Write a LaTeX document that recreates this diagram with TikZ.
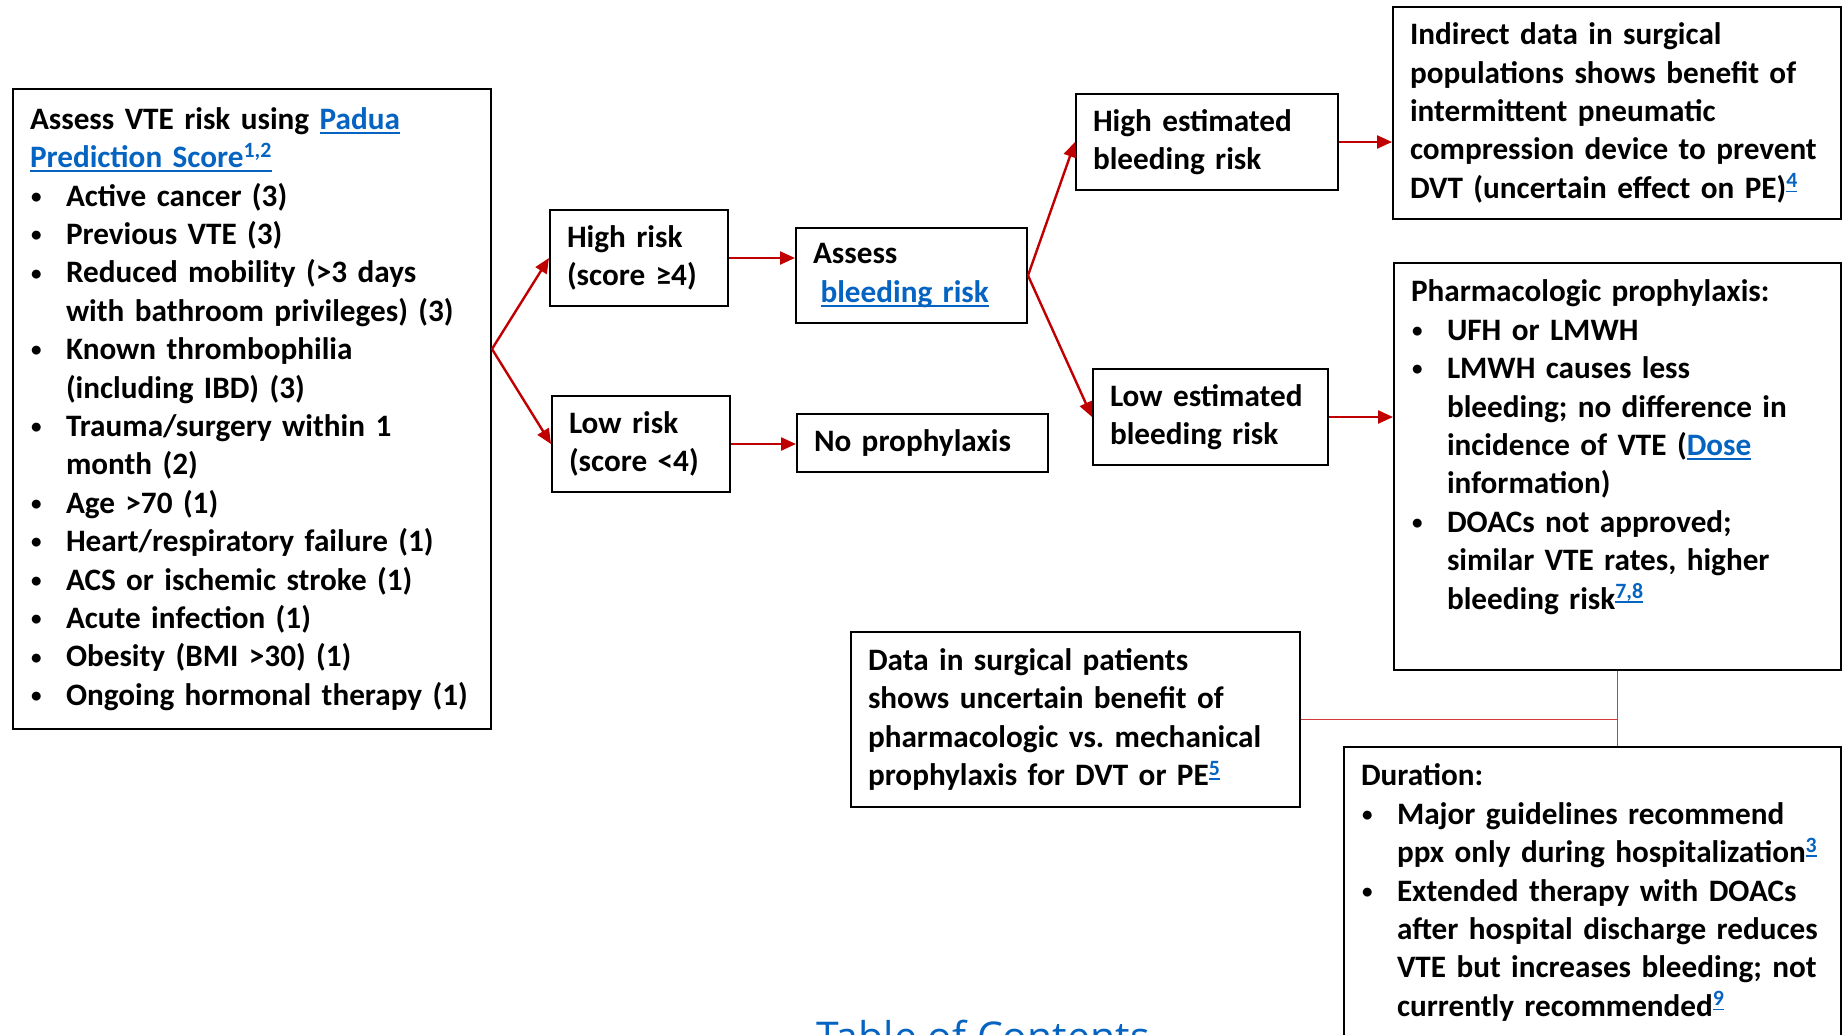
\documentclass[tikz,border=0pt]{standalone}
\usepackage{fontspec}
\setmainfont{Carlito}
\newfontfamily\tocfont{Open Sans}
\usetikzlibrary{%
  arrows.meta,%
  calc%
}
\frenchspacing
\definecolor{arrowred}{RGB}{192,0,0}
\definecolor{thinred}{RGB}{210,60,60}
\definecolor{linkblue}{RGB}{5,99,193}
\newcommand{\lnk}[1]{\leavevmode{\color{linkblue}\setbox0\hbox{#1}\rlap{\rule[-2.2pt]{\wd0}{0.9pt}}\box0}}
\newcommand{\refsup}[1]{\textsuperscript{\lnk{#1}}}
\newcommand{\bul}{\makebox[18pt][l]{\hspace{0.6pt}\raisebox{1.4pt}{\fontsize{10.5}{10.5}\selectfont\textbullet}}}
\newcommand{\ind}{\leavevmode\hspace*{18pt}}

\begin{document}
\begin{tikzpicture}[
  x=0.5pt, y=-0.5pt,
  font=\fontsize{15.6}{19.2}\selectfont\bfseries,
  >={Triangle[length=7.5pt,width=6.5pt]},
  line width=1pt,
  box/.style={rectangle, draw=black, line width=1pt, anchor=north west, align=left, inner xsep=8.5pt, inner ysep=6pt,
    execute at begin node={\rightskip=0pt plus 1fil minus 100pt\relax}},
  topbox/.style={box, inner ysep=8.5pt},
  flow/.style={->, draw=arrowred, line width=1.2pt},
  thinlink/.style={draw=thinred, line width=0.6pt},
  toc/.style={anchor=base, text=linkblue, font=\tocfont\fontsize{20.5}{24}\selectfont}
]
\useasboundingbox (0,0) rectangle (1842,1034);

\node[box, text width=222pt, minimum height=320pt] (padua) at (12,88) {%
Assess VTE risk using \lnk{Padua}\\
\lnk{Prediction Score\textsuperscript{1,2}}\\
\bul Active cancer (3)\\
\bul Previous VTE (3)\\
\bul Reduced mobility (>3 days\\
\ind with bathroom privileges) (3)\\
\bul Known thrombophilia\\
\ind (including IBD) (3)\\
\bul Trauma/surgery within 1\\
\ind month (2)\\
\bul Age >70 (1)\\
\bul Heart/respiratory failure (1)\\
\bul ACS or ischemic stroke (1)\\
\bul Acute infection (1)\\
\bul Obesity (BMI >30) (1)\\
\bul Ongoing hormonal therapy (1)};

\node[box, text width=72pt, minimum height=48pt] (highrisk) at (549,209) {High risk\\(score ≥4)};
\node[box, text width=72pt, minimum height=48pt] (lowrisk) at (551,395) {Low risk\\(score <4)};
\node[box, text width=98.5pt, minimum height=47.5pt] (assess) at (795,227) {Assess\\\hspace*{3.75pt}\lnk{bleeding risk}};
\node[box, text width=108.5pt, minimum height=29pt] (noppx) at (796,413) {No prophylaxis};
\node[box, text width=114pt, minimum height=48pt] (highbleed) at (1075,93) {High estimated\\bleeding risk};
\node[box, text width=100.5pt, minimum height=48pt] (lowbleed) at (1092,368) {Low estimated\\bleeding risk};

\node[box, text width=207pt, minimum height=106pt] (indirect) at (1392,6) {%
Indirect data in surgical\\
populations shows benefit of\\
intermittent pneumatic\\
compression device to prevent\\
DVT (uncertain effect on PE)\refsup{4}};

\node[topbox, text width=206.5pt] (pharma) at (1393,262) {%
Pharmacologic prophylaxis:\\
\bul UFH or LMWH\\
\bul LMWH causes less\\
\ind bleeding; no difference in\\
\ind incidence of VTE (\lnk{Dose}\\
\ind information)\\
\bul DOACs not approved;\\
\ind similar VTE rates, higher\\
\ind bleeding risk\refsup{7,8}\\[-3pt]
\strut};

\node[box, text width=207.5pt, minimum height=87.5pt] (surgdata) at (850,631) {%
Data in surgical patients\\
shows uncertain benefit of\\
pharmacologic vs. mechanical\\
prophylaxis for DVT or PE\refsup{5}};

\node[topbox, text width=231.5pt] (duration) at (1343,746) {%
Duration:\\
\bul Major guidelines recommend\\
\ind ppx only during hospitalization\refsup{3}\\
\bul Extended therapy with DOACs\\
\ind after hospital discharge reduces\\
\ind VTE but increases bleeding; not\\
\ind currently recommended\refsup{9}\\
\strut};

\node[toc] (contents) at (983,1051) {Table of Contents};

\coordinate (fork) at ($(padua.east)+(0,-60)$);
\draw[flow] (fork) -- (highrisk.west);
\draw[flow] (fork) -- (lowrisk.west);
\draw[flow] (highrisk.east) -- (highrisk.east -| assess.west);
\draw[flow] (lowrisk.east) -- (lowrisk.east -| noppx.west);
\draw[flow] (assess.east) -- (highbleed.west);
\draw[flow] (assess.east) -- (lowbleed.west);
\draw[flow] (highbleed.east) -- (highbleed.east -| indirect.west);
\draw[flow] (lowbleed.east) -- (lowbleed.east -| pharma.west);

\draw[thinlink] (pharma.south) -- (pharma.south |- duration.north);
\draw[thinlink] (surgdata.east) -- (surgdata.east -| pharma.south);

\end{tikzpicture}
\end{document}
